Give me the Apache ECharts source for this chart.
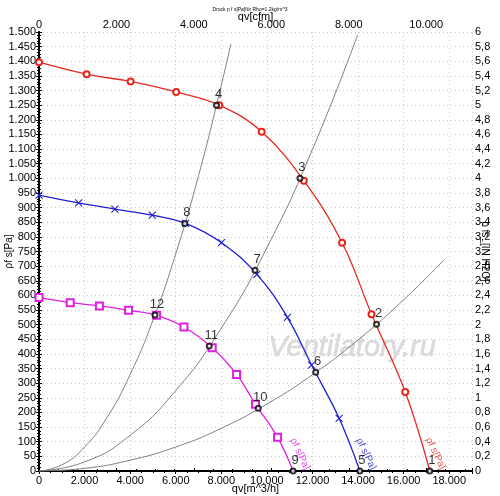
<!DOCTYPE html>
<html>
<head>
<meta charset="utf-8">
<script src="https://cdn.jsdelivr.net/npm/echarts@6/dist/echarts.min.js"></script>
<style>
  html, body { margin: 0; padding: 0; background: #fff; }
  #main { width: 500px; height: 496px; }
</style>
</head>
<body>
<div id="main"></div>
<script>
// Kennlinien (qv in m^3/h, pf s in Pa)
var redQ  = [0, 2090, 4020, 6020, 7910, 9770, 11620, 13300, 14590, 16070, 17150];
var redP  = [1397, 1356, 1331, 1295, 1250, 1159, 992, 780, 536, 270, 0];
var blueQ = [0, 1740, 3330, 4970, 6430, 8010, 9560, 10900, 11960, 13170, 14080];
var blueP = [943, 916, 895, 874, 846, 780, 672, 525, 362, 180, 0];
var pinkQ = [0, 1370, 2650, 3930, 5160, 6360, 7600, 8670, 9500, 10470, 11150];
var pinkP = [593, 575, 564, 549, 532, 492, 421, 330, 228, 115, 0];

// Anlagenkennlinien (grau)
var sys1Q = [0, 1000, 2000, 3000, 4000, 5000, 6000, 7000, 8000, 8420];
var sys1P = [0, 21, 82, 185, 330, 515, 742, 1009, 1318, 1460];
var sys2Q = [0, 2000, 4000, 6000, 8000, 10000, 12000, 13980];
var sys2P = [0, 31, 122, 275, 488, 763, 1099, 1490];
var sys3Q = [0, 2000, 4000, 6000, 8000, 10000, 12000, 14000, 16000, 17780];
var sys3P = [0, 9, 37, 82, 146, 229, 329, 448, 585, 722];

// Betriebspunkte 1..12
var ptNames = ['1', '2', '3', '4', '5', '6', '7', '8', '9', '10', '11', '12'];
var ptQ = [17150, 14810, 11450, 7790, 14080, 12140, 9480, 6400, 11150, 9620, 7470, 5090];
var ptP = [0, 501, 1000, 1250, 0, 337, 686, 846, 0, 214, 427, 533];

// Kurvenbeschriftungen
var curveLabelQ = [11450, 14350, 17400];
var curveLabelP = [58, 58, 60];
var curveLabelColor = ['#e020e0', '#2020d0', '#e8281e'];

var M3H_PER_CFM = 1.699;

function pairs(qs, ps, noLastSymbol) {
    return qs.map(function (q, i) {
        if (noLastSymbol && i === qs.length - 1) {
            return { value: [q, ps[i]], symbol: 'none' };
        }
        return [q, ps[i]];
    });
}

function dots(v) {
    var s = String(Math.round(v));
    return s.replace(/\B(?=(\d{3})+(?!\d))/g, '.');
}

var fontFam = '"Liberation Sans", Arial, sans-serif';
var lbl = { color: '#000', fontSize: 11, fontFamily: fontFam };

var myChart = echarts.init(document.getElementById('main'));

var series = [];
// graue Anlagenkennlinien
[[sys1Q, sys1P], [sys2Q, sys2P], [sys3Q, sys3P]].forEach(function (s) {
    series.push({
        type: 'line',
        data: pairs(s[0], s[1]),
        smooth: true,
        symbol: 'none',
        lineStyle: { color: '#808080', width: 1 },
        z: 2
    });
});

series.push({
    type: 'line',
    data: pairs(redQ, redP, true),
    smooth: 0.4,
    symbol: 'emptyCircle',
    symbolSize: 6,
    itemStyle: { color: '#e8281e', borderWidth: 1 },
    lineStyle: { color: '#e8281e', width: 1.3 },
    z: 3
});
series.push({
    type: 'line',
    data: pairs(blueQ, blueP, true),
    smooth: 0.4,
    symbol: 'path://M0 0L10 10M10 0L0 10',
    symbolSize: 7,
    itemStyle: { color: 'transparent', borderColor: '#2020d0', borderWidth: 1.1 },
    lineStyle: { color: '#2020d0', width: 1.3 },
    z: 3
});
series.push({
    type: 'line',
    data: pairs(pinkQ, pinkP, true),
    smooth: 0.4,
    symbol: 'emptyRect',
    symbolSize: 7,
    itemStyle: { color: '#e020e0', borderWidth: 1 },
    lineStyle: { color: '#e020e0', width: 1.3 },
    z: 3
});

// Betriebspunkte
series.push({
    type: 'scatter',
    data: ptQ.map(function (q, i) { return { value: [q, ptP[i]], name: ptNames[i] }; }),
    symbol: 'emptyCircle',
    symbolSize: 5,
    itemStyle: { color: '#000', borderWidth: 1 },
    label: {
        show: true,
        position: 'top',
        distance: 1,
        offset: [2, 0],
        formatter: '{b}',
        color: '#000',
        fontSize: 13,
        fontFamily: fontFam
    },
    z: 5
});

// Kurvenbeschriftung "pf s[Pa]"
series.push({
    type: 'scatter',
    data: curveLabelQ.map(function (q, i) {
        return {
            value: [q, curveLabelP[i]],
            label: { color: curveLabelColor[i] }
        };
    }),
    symbolSize: 0,
    label: {
        show: true,
        position: 'inside',
        rotate: -65,
        formatter: 'ρf s[Pa]',
        fontSize: 10,
        fontFamily: fontFam
    },
    z: 4
});

var option = {
    animation: false,
    backgroundColor: '#fff',
    title: {
        text: 'Druck p f s[Pa]für Rho=1,2kg/m^3',
        left: 'center',
        top: 2,
        textStyle: { fontSize: 5, fontWeight: 'normal', color: '#000', fontFamily: fontFam }
    },
    graphic: [{
        type: 'text',
        left: 268,
        top: 333,
        z: 1,
        style: {
            text: 'Ventilatory.ru',
            fill: '#dadada',
            stroke: '#cfcfcf',
            lineWidth: 0.5,
            font: 'italic 29px "Liberation Sans", Arial, sans-serif'
        }
    }],
    grid: { left: 39, right: 28, top: 32, bottom: 25, containLabel: false, outerBoundsMode: 'none' },
    xAxis: [{
        type: 'value',
        position: 'bottom',
        min: 0,
        max: 19000,
        interval: 2000,
        name: 'qv[m^3/h]',
        nameLocation: 'middle',
        nameGap: 12,
        nameMoveOverlap: false,
        nameTextStyle: lbl,
        axisLine: { lineStyle: { color: '#000', width: 1.5 } },
        axisTick: { show: true, length: 3, lineStyle: { color: '#000' } },
        minorTick: { show: true, splitNumber: 4, length: 2, lineStyle: { color: '#000' } },
        axisLabel: Object.assign({ margin: 4, showMaxLabel: false, formatter: dots }, lbl),
        splitLine: { show: true, lineStyle: { color: '#c8c8c8', type: [1, 3] } }
    }, {
        type: 'value',
        position: 'top',
        min: 0,
        max: 19000 / M3H_PER_CFM,
        interval: 2000,
        name: 'qv[cfm]',
        nameLocation: 'middle',
        nameGap: 10,
        nameMoveOverlap: false,
        nameTextStyle: lbl,
        axisLine: { lineStyle: { color: '#000', width: 2 } },
        axisTick: { show: true, length: 3, lineStyle: { color: '#000' } },
        minorTick: { show: true, splitNumber: 4, length: 2, lineStyle: { color: '#000' } },
        axisLabel: Object.assign({ margin: 2, showMaxLabel: false, formatter: dots }, lbl),
        splitLine: { show: false }
    }],
    yAxis: [{
        type: 'value',
        position: 'left',
        min: 0,
        max: 1500,
        interval: 50,
        name: 'ρf s[Pa]',
        nameLocation: 'middle',
        nameRotate: 90,
        nameGap: 25,
        nameMoveOverlap: false,
        nameTextStyle: { color: '#000', fontSize: 10, fontFamily: fontFam },
        axisLine: { show: true, lineStyle: { color: '#000', width: 1.5 } },
        axisTick: { show: true, length: 3, lineStyle: { color: '#000' } },
        minorTick: { show: true, splitNumber: 5, length: 2, lineStyle: { color: '#000' } },
        axisLabel: Object.assign({ margin: 3, formatter: dots }, lbl),
        splitLine: { show: true, lineStyle: { color: '#c8c8c8', type: [1, 3] } }
    }, {
        type: 'value',
        position: 'right',
        min: 0,
        max: 6,
        interval: 0.2,
        name: 'p fs_[IN H2O]',
        nameLocation: 'middle',
        nameRotate: -90,
        nameGap: 8,
        nameMoveOverlap: false,
        nameTextStyle: { color: '#000', fontSize: 10, fontFamily: fontFam },
        axisLine: { show: true, lineStyle: { color: '#000', width: 2 } },
        axisTick: { show: true, length: 3, lineStyle: { color: '#000' } },
        minorTick: { show: true, splitNumber: 4, length: 2, lineStyle: { color: '#000' } },
        axisLabel: Object.assign({
            margin: 3,
            formatter: function (v) { return String(+v.toFixed(1)).replace('.', ','); }
        }, lbl),
        splitLine: { show: false }
    }],
    series: series
};
myChart.setOption(option);
</script>
</body>
</html>
